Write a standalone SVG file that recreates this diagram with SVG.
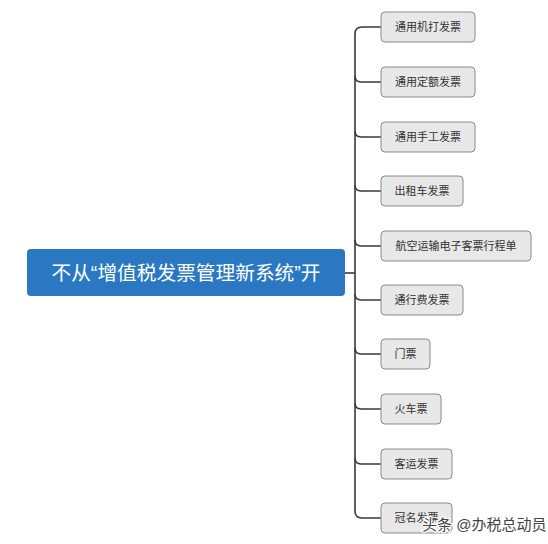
<svg xmlns="http://www.w3.org/2000/svg" width="548" height="544" viewBox="0 0 548 544">
<style>
.n rect{fill:#e8e8e8;stroke:#8a8a8a;stroke-width:1}
.n text{font-family:"Liberation Sans","Noto Sans CJK SC",sans-serif;font-size:11px;fill:#333;text-anchor:middle;dominant-baseline:central}
.c path{fill:none;stroke:#3a3a3a;stroke-width:1.6}
</style>
<rect width="548" height="544" fill="#fff"/>
<g class="c" id="connectors">
<path d="M345 273 L355 273"/>
<path d="M381 27 L362 27 Q355 27 355 34 L355 511 Q355 518 362 518 L381 518"/>
<path d="M355 76 Q355 82 361 82 L381 82"/>
<path d="M355 131 Q355 137 361 137 L381 137"/>
<path d="M355 185 Q355 191 361 191 L381 191"/>
<path d="M355 240 Q355 246 361 246 L381 246"/>
<path d="M355 294 Q355 300 361 300 L381 300"/>
<path d="M355 348 Q355 354 361 354 L381 354"/>
<path d="M355 403 Q355 409 361 409 L381 409"/>
<path d="M355 458 Q355 464 361 464 L381 464"/>
</g>
<g id="root">
<rect x="27" y="249" width="318" height="47" rx="4" fill="#2b78c2"/>
<text x="186" y="273" font-family="Liberation Sans,'Noto Sans CJK SC',sans-serif" font-size="19.7" fill="#fff" text-anchor="middle" dominant-baseline="central">不从“增值税发票管理新系统”开</text>
</g>
<g class="n" id="n1"><rect x="381" y="12" width="94" height="30" rx="4"/><text x="428" y="27">通用机打发票</text></g>
<g class="n" id="n2"><rect x="381" y="67" width="94" height="30" rx="4"/><text x="428" y="82">通用定额发票</text></g>
<g class="n" id="n3"><rect x="381" y="122" width="94" height="30" rx="4"/><text x="428" y="137">通用手工发票</text></g>
<g class="n" id="n4"><rect x="381" y="176" width="82" height="30" rx="4"/><text x="422" y="191">出租车发票</text></g>
<g class="n" id="n5"><rect x="381" y="231" width="150" height="30" rx="4"/><text x="456" y="246">航空运输电子客票行程单</text></g>
<g class="n" id="n6"><rect x="381" y="285" width="82" height="30" rx="4"/><text x="422" y="300">通行费发票</text></g>
<g class="n" id="n7"><rect x="381" y="339" width="49" height="30" rx="4"/><text x="405.5" y="354">门票</text></g>
<g class="n" id="n8"><rect x="381" y="394" width="60" height="30" rx="4"/><text x="411" y="409">火车票</text></g>
<g class="n" id="n9"><rect x="381" y="449" width="71" height="30" rx="4"/><text x="416.5" y="464">客运发票</text></g>
<g class="n" id="n10"><rect x="381" y="503" width="71" height="30" rx="4"/><text x="416.5" y="518">冠名发票</text></g>
<text x="422" y="530" font-family="Liberation Sans,'Noto Sans CJK SC',sans-serif" font-size="15" fill="#444" stroke="#fff" stroke-width="2.5" paint-order="stroke">头条 @办税总动员</text>
</svg>
